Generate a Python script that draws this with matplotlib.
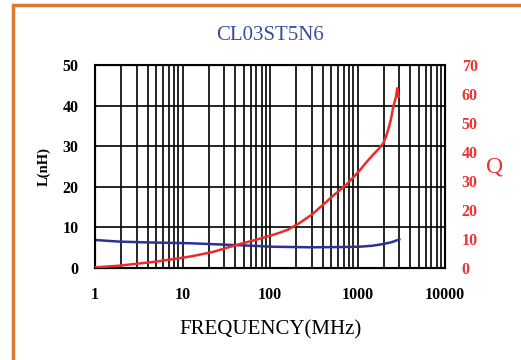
import numpy as np
import matplotlib
matplotlib.use("Agg")
import matplotlib.pyplot as plt
from matplotlib.patches import Rectangle

# data
freq_L = [1, 1.9, 4, 12, 35, 77, 100, 290, 600, 1070, 1500, 1970, 2500, 3000]
ind_L = [6.9, 6.5, 6.3, 6.1, 5.7, 5.4, 5.25, 5.1, 5.15, 5.25, 5.5, 5.9, 6.4, 7.05]
freq_Q = [1, 1.9, 5, 12, 22, 35, 50, 77, 100, 130, 160, 220, 300, 370, 444, 520, 620, 752, 880,
          1070, 1250, 1500, 1750, 1970, 2100, 2240, 2400, 2560, 2750, 2850, 2900, 2950]
q_vals = [0.2, 0.8, 2.2, 3.9, 5.5, 7.3, 8.6, 10.1, 11.1, 12.2, 13.2, 15.6, 18.4, 20.8, 22.9, 24.8,
          26.7, 28.9, 31.0, 33.8, 36.3, 39.0, 41.1, 43.0, 45.0, 47.6, 51.0, 55.5, 59.0, 62.0, 61.0, 59.0]

title = "CL03ST5N6"
serif = ["Liberation Serif", "DejaVu Serif"]

fig = plt.figure(figsize=(5.21, 3.6), dpi=100)
fig.patches.append(Rectangle((13 / 521, -0.1), 1.2, (360 - 5) / 360 + 0.1, transform=fig.transFigure,
                             fill=False, edgecolor="#d67d33", linewidth=2.5))

ax = fig.add_axes([95 / 521, 1 - 268 / 360, 350 / 521, 203 / 360])
ax.set_xscale("log")
ax.set_xlim(1, 10000)
ax.set_ylim(0, 50)
ax.set_yticks([0, 10, 20, 30, 40, 50])
ax.set_xticks([1, 10, 100, 1000, 10000])
ax.set_xticklabels(["1", "10", "100", "1000", "10000"])
ax.grid(True, which="both", axis="x", color="black", linewidth=1.2)
ax.grid(True, which="major", axis="y", color="black", linewidth=1.2)
ax.tick_params(which="both", length=0)
ax.tick_params(axis="x", pad=14)
ax.tick_params(axis="y", pad=12)
for s in ax.spines.values():
    s.set_linewidth(1.5)
for lab in ax.get_xticklabels() + ax.get_yticklabels():
    lab.set_fontfamily(serif)
    lab.set_fontweight("bold")
    lab.set_fontsize(11.5)
ax.plot(freq_L, ind_L, color="#2e3192", linewidth=1.8, zorder=5)
ax.set_ylabel("L(nH)", family=serif, fontweight="bold", fontsize=10.5, labelpad=8)
ax.set_xlabel("FREQUENCY(MHz)", family=serif, fontsize=15, labelpad=12)

ax2 = ax.twinx()
ax2.set_ylim(0, 70)
ax2.set_yticks([0, 10, 20, 30, 40, 50, 60, 70])
ax2.tick_params(length=0, pad=12, colors="#ee3333")
for lab in ax2.get_yticklabels():
    lab.set_fontfamily(serif)
    lab.set_fontweight("bold")
    lab.set_fontsize(11.5)
ax2.plot(freq_Q, q_vals, color="#ee2a2a", linewidth=1.8, zorder=5)
ax2.set_ylabel("Q", family=serif, fontsize=17, color="#ee3333", rotation=0, labelpad=12, va="center")

fig.text(270 / 521, 1 - 35 / 360, title, family=serif, fontsize=15, color="#3c4b9c", ha="center", va="center")

fig.savefig("out.png", dpi=100)
